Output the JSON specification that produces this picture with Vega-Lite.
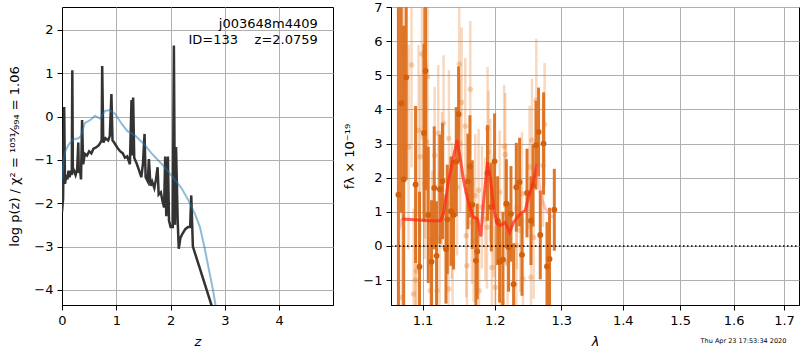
{
  "$schema": "https://vega.github.io/schema/vega-lite/v6.json",
  "background": "white",
  "padding": {"left": 8, "top": 0, "right": 1, "bottom": 0},
  "config": {
    "font": "DejaVu Sans",
    "view": {"stroke": "black", "strokeWidth": 1},
    "axis": {
      "grid": true, "gridColor": "#b0b0b0", "gridWidth": 1,
      "domainColor": "black", "domainWidth": 1,
      "tickColor": "black", "tickSize": 5, "labelPadding": 4,
      "labelFont": "DejaVu Sans", "labelFontSize": 13, "labelColor": "black",
      "titleFont": "DejaVu Sans", "titleFontSize": 13, "titleColor": "black", "titleFontWeight": "normal",
      "labelFlush": false, "labelOverlap": false
    }
  },
  "datasets": {
    "pz_model": [
      {"z": 0.0, "v": -1.45}, {"z": 0.03, "v": -1.0}, {"z": 0.06, "v": -0.8}, {"z": 0.12, "v": -0.65},
      {"z": 0.2, "v": -0.53}, {"z": 0.3, "v": -0.5}, {"z": 0.35, "v": -0.45}, {"z": 0.42, "v": -0.15},
      {"z": 0.52, "v": -0.08}, {"z": 0.61, "v": 0.02}, {"z": 0.7, "v": -0.05}, {"z": 0.79, "v": 0.13},
      {"z": 0.88, "v": 0.15}, {"z": 0.98, "v": 0.06}, {"z": 1.1, "v": -0.17}, {"z": 1.2, "v": -0.33},
      {"z": 1.34, "v": -0.43}, {"z": 1.5, "v": -0.62}, {"z": 1.65, "v": -0.85}, {"z": 1.84, "v": -1.1},
      {"z": 2.02, "v": -1.37}, {"z": 2.2, "v": -1.65}, {"z": 2.33, "v": -1.94}, {"z": 2.45, "v": -2.25},
      {"z": 2.54, "v": -2.55}, {"z": 2.62, "v": -3.0}, {"z": 2.7, "v": -3.5}, {"z": 2.78, "v": -4.0},
      {"z": 2.84, "v": -4.45}
    ],
    "pz_chi": [
      {"z": 0.0, "v": -2.2}, {"z": 0.02, "v": -1.9}, {"z": 0.04, "v": 0.22}, {"z": 0.055, "v": -1.55},
      {"z": 0.08, "v": -1.35}, {"z": 0.1, "v": -1.45}, {"z": 0.12, "v": -1.25}, {"z": 0.14, "v": -1.4},
      {"z": 0.16, "v": -1.25}, {"z": 0.18, "v": -1.35}, {"z": 0.19, "v": 1.07}, {"z": 0.2, "v": -1.3},
      {"z": 0.22, "v": -1.25}, {"z": 0.25, "v": -1.35}, {"z": 0.28, "v": -1.2}, {"z": 0.3, "v": -0.6},
      {"z": 0.31, "v": -1.3}, {"z": 0.33, "v": -1.2}, {"z": 0.35, "v": -1.45}, {"z": 0.37, "v": -0.08},
      {"z": 0.39, "v": -1.1}, {"z": 0.42, "v": -0.86}, {"z": 0.46, "v": -0.9}, {"z": 0.5, "v": -0.8},
      {"z": 0.54, "v": -0.85}, {"z": 0.58, "v": -0.74}, {"z": 0.62, "v": -0.72}, {"z": 0.67, "v": -0.67},
      {"z": 0.7, "v": -0.62}, {"z": 0.73, "v": -0.55}, {"z": 0.74, "v": 1.17}, {"z": 0.76, "v": -0.6},
      {"z": 0.8, "v": -0.5}, {"z": 0.85, "v": -0.55}, {"z": 0.88, "v": -0.45}, {"z": 0.91, "v": 0.52},
      {"z": 0.93, "v": -0.55}, {"z": 0.96, "v": -0.6}, {"z": 1.02, "v": -0.72}, {"z": 1.07, "v": -0.8},
      {"z": 1.12, "v": -0.85}, {"z": 1.16, "v": -0.95}, {"z": 1.2, "v": -0.92}, {"z": 1.25, "v": -1.1},
      {"z": 1.28, "v": 0.38}, {"z": 1.29, "v": -0.9}, {"z": 1.31, "v": 0.44}, {"z": 1.33, "v": -0.95},
      {"z": 1.38, "v": -1.1}, {"z": 1.42, "v": -1.25}, {"z": 1.46, "v": -1.4}, {"z": 1.49, "v": -1.1},
      {"z": 1.52, "v": -0.4}, {"z": 1.54, "v": -1.4}, {"z": 1.58, "v": -1.5}, {"z": 1.6, "v": -0.98},
      {"z": 1.63, "v": -1.6}, {"z": 1.66, "v": -1.5}, {"z": 1.7, "v": -1.65}, {"z": 1.73, "v": -1.45},
      {"z": 1.76, "v": -1.17}, {"z": 1.78, "v": -1.8}, {"z": 1.82, "v": -1.75}, {"z": 1.85, "v": -1.95},
      {"z": 1.88, "v": -2.1}, {"z": 1.9, "v": -0.92}, {"z": 1.92, "v": -2.3}, {"z": 1.95, "v": -0.92},
      {"z": 1.97, "v": -2.4}, {"z": 2.0, "v": -2.55}, {"z": 2.04, "v": -2.55}, {"z": 2.06, "v": 1.64},
      {"z": 2.08, "v": -2.5}, {"z": 2.1, "v": -0.7}, {"z": 2.13, "v": -2.4}, {"z": 2.15, "v": -3.05},
      {"z": 2.18, "v": -2.8}, {"z": 2.22, "v": -2.7}, {"z": 2.27, "v": -2.6}, {"z": 2.32, "v": -2.55},
      {"z": 2.36, "v": -2.55}, {"z": 2.38, "v": -1.82}, {"z": 2.41, "v": -3.0}, {"z": 2.79, "v": -4.5}
    ],
    "pz_label": [
      {"z": 4.71, "v": 2.13, "t": "j003648m4409"},
      {"z": 4.71, "v": 1.77, "t": "ID=133\u00a0\u00a0\u00a0\u00a0z=2.0759"}
    ],
    "spec_light": [
      {"l": 1.0751, "f": 5.77, "lo": 2.77, "hi": 8.77}, {"l": 1.0816, "f": 2.9, "lo": -0.1, "hi": 5.9},
      {"l": 1.073, "f": -1.51, "lo": -4.51, "hi": 1.49}, {"l": 1.0882, "f": -1.41, "lo": -3.91, "hi": 1.09},
      {"l": 1.0917, "f": -0.73, "lo": -3.23, "hi": 1.77}, {"l": 1.0947, "f": 3.39, "lo": 0.89, "hi": 5.89},
      {"l": 1.0992, "f": 5.62, "lo": 3.12, "hi": 8.12}, {"l": 1.0969, "f": 2.61, "lo": 0.21, "hi": 5.01},
      {"l": 1.1036, "f": 2.61, "lo": 0.21, "hi": 5.01}, {"l": 1.1066, "f": 4.96, "lo": 2.66, "hi": 7.26},
      {"l": 1.1058, "f": 3.05, "lo": 0.75, "hi": 5.35}, {"l": 1.103, "f": 1.82, "lo": -0.38, "hi": 4.02},
      {"l": 1.1103, "f": -1.31, "lo": -3.51, "hi": 0.89}, {"l": 1.1125, "f": 0.2, "lo": -1.8, "hi": 2.2},
      {"l": 1.1161, "f": 2.66, "lo": 0.66, "hi": 4.66}, {"l": 1.1193, "f": -1.31, "lo": -3.31, "hi": 0.69},
      {"l": 1.1228, "f": 0.2, "lo": -1.8, "hi": 2.2}, {"l": 1.126, "f": 1.92, "lo": -0.08, "hi": 3.92},
      {"l": 1.1282, "f": 3.59, "lo": 1.59, "hi": 5.59}, {"l": 1.135, "f": -1.26, "lo": -3.26, "hi": 0.74},
      {"l": 1.1355, "f": 3.15, "lo": 1.15, "hi": 5.15}, {"l": 1.1396, "f": 1.04, "lo": -0.96, "hi": 3.04},
      {"l": 1.1466, "f": 1.72, "lo": -0.28, "hi": 3.72}, {"l": 1.1497, "f": 5.33, "lo": 3.33, "hi": 7.33},
      {"l": 1.1511, "f": 3.0, "lo": 1.0, "hi": 5.0}, {"l": 1.1581, "f": 3.51, "lo": 1.51, "hi": 5.51},
      {"l": 1.1595, "f": 0.3, "lo": -1.5, "hi": 2.1}, {"l": 1.1604, "f": -0.58, "lo": -2.38, "hi": 1.22},
      {"l": 1.1651, "f": 4.59, "lo": 2.59, "hi": 6.59}, {"l": 1.1674, "f": 0.69, "lo": -1.11, "hi": 2.49},
      {"l": 1.1697, "f": 0.16, "lo": -1.64, "hi": 1.96}, {"l": 1.1721, "f": 1.48, "lo": -0.32, "hi": 3.28},
      {"l": 1.1768, "f": 1.63, "lo": -0.17, "hi": 3.43}, {"l": 1.1775, "f": -1.31, "lo": -3.11, "hi": 0.49},
      {"l": 1.1816, "f": 1.14, "lo": -0.66, "hi": 2.94}, {"l": 1.1864, "f": 0.79, "lo": -1.01, "hi": 2.59},
      {"l": 1.1888, "f": 0.55, "lo": -1.25, "hi": 2.35}, {"l": 1.1896, "f": 3.44, "lo": 1.64, "hi": 5.24},
      {"l": 1.191, "f": 2.75, "lo": 0.95, "hi": 4.55}, {"l": 1.1935, "f": 1.92, "lo": 0.12, "hi": 3.72},
      {"l": 1.1983, "f": 0.89, "lo": -0.91, "hi": 2.69}, {"l": 1.1959, "f": -0.63, "lo": -2.43, "hi": 1.17},
      {"l": 1.2007, "f": -1.22, "lo": -3.02, "hi": 0.58}, {"l": 1.207, "f": 1.58, "lo": -0.22, "hi": 3.38},
      {"l": 1.2137, "f": 2.92, "lo": 1.12, "hi": 4.72}, {"l": 1.2152, "f": 2.68, "lo": 0.88, "hi": 4.48},
      {"l": 1.2163, "f": 1.21, "lo": -0.59, "hi": 3.01}, {"l": 1.2186, "f": -0.48, "lo": -2.28, "hi": 1.32},
      {"l": 1.2105, "f": -1.66, "lo": -3.46, "hi": 0.14}, {"l": 1.2315, "f": 0.01, "lo": -1.79, "hi": 1.81},
      {"l": 1.2324, "f": 1.12, "lo": -0.68, "hi": 2.92}, {"l": 1.2374, "f": 0.45, "lo": -1.35, "hi": 2.25},
      {"l": 1.24, "f": 1.53, "lo": -0.27, "hi": 3.33}, {"l": 1.2415, "f": -0.97, "lo": -2.77, "hi": 0.83},
      {"l": 1.2514, "f": 2.31, "lo": 0.51, "hi": 4.11}, {"l": 1.2535, "f": -0.92, "lo": -2.72, "hi": 0.88},
      {"l": 1.255, "f": 3.1, "lo": 1.3, "hi": 4.9}, {"l": 1.2575, "f": 0.25, "lo": -1.55, "hi": 2.05},
      {"l": 1.2615, "f": 4.27, "lo": 2.47, "hi": 6.07}, {"l": 1.2742, "f": 3.56, "lo": 1.76, "hi": 5.36},
      {"l": 1.2718, "f": 2.36, "lo": 0.56, "hi": 4.16}, {"l": 1.0906, "f": -1.0, "lo": -3.5, "hi": 1.5},
      {"l": 1.0855, "f": 5.3, "lo": 2.3, "hi": 8.3}, {"l": 1.121, "f": 3.3, "lo": 1.3, "hi": 5.3},
      {"l": 1.1405, "f": -0.5, "lo": -2.5, "hi": 1.5}, {"l": 1.153, "f": 4.2, "lo": 2.0, "hi": 6.4}
    ],
    "spec_dark": [
      {"l": 1.0685, "f": 1.5, "lo": -4.5, "hi": 7.5}, {"l": 1.0721, "f": 4.18, "lo": 0.98, "hi": 7.38},
      {"l": 1.0753, "f": 1.95, "lo": -2.55, "hi": 6.45}, {"l": 1.0786, "f": 4.94, "lo": 1.94, "hi": 7.94},
      {"l": 1.0908, "f": 1.8, "lo": -0.5, "hi": 4.1}, {"l": 1.096, "f": -0.61, "lo": -2.81, "hi": 1.59},
      {"l": 1.1019, "f": 3.31, "lo": 0.71, "hi": 5.91}, {"l": 1.104, "f": 5.13, "lo": 1.63, "hi": 8.63},
      {"l": 1.1076, "f": 0.91, "lo": -1.09, "hi": 2.91}, {"l": 1.112, "f": -0.46, "lo": -2.26, "hi": 1.34},
      {"l": 1.1156, "f": 1.7, "lo": -0.1, "hi": 3.5}, {"l": 1.1187, "f": -0.29, "lo": -1.89, "hi": 1.31},
      {"l": 1.1233, "f": 1.66, "lo": 0.06, "hi": 3.26}, {"l": 1.1268, "f": 1.9, "lo": 0.2, "hi": 3.6},
      {"l": 1.1315, "f": -0.09, "lo": -1.69, "hi": 1.51}, {"l": 1.1333, "f": 0.78, "lo": -0.82, "hi": 2.38},
      {"l": 1.1383, "f": 1.02, "lo": -0.58, "hi": 2.62}, {"l": 1.1419, "f": 0.91, "lo": -0.69, "hi": 2.51},
      {"l": 1.1456, "f": 2.47, "lo": 0.87, "hi": 4.07}, {"l": 1.1488, "f": 3.86, "lo": 2.46, "hi": 5.26},
      {"l": 1.1618, "f": 1.89, "lo": 0.49, "hi": 3.29}, {"l": 1.1646, "f": 2.33, "lo": 0.83, "hi": 3.83},
      {"l": 1.1679, "f": 1.21, "lo": -0.09, "hi": 2.51}, {"l": 1.173, "f": -0.43, "lo": -1.73, "hi": 0.87},
      {"l": 1.1749, "f": -0.16, "lo": -1.56, "hi": 1.24}, {"l": 1.1895, "f": 2.14, "lo": 0.74, "hi": 3.54},
      {"l": 1.195, "f": 1.14, "lo": -0.16, "hi": 2.44}, {"l": 1.1997, "f": 2.48, "lo": 1.08, "hi": 3.88},
      {"l": 1.2041, "f": 0.74, "lo": -0.56, "hi": 2.04}, {"l": 1.207, "f": -0.46, "lo": -1.66, "hi": 0.74},
      {"l": 1.2119, "f": -0.4, "lo": -1.8, "hi": 1.0}, {"l": 1.2168, "f": 1.24, "lo": -0.06, "hi": 2.54},
      {"l": 1.2201, "f": -0.04, "lo": -1.34, "hi": 1.26}, {"l": 1.2236, "f": 0.94, "lo": -0.46, "hi": 2.34},
      {"l": 1.2275, "f": -1.12, "lo": -2.32, "hi": 0.08}, {"l": 1.2315, "f": 1.72, "lo": 0.42, "hi": 3.02},
      {"l": 1.2364, "f": 1.87, "lo": 0.57, "hi": 3.17}, {"l": 1.24, "f": -0.26, "lo": -1.46, "hi": 0.94},
      {"l": 1.2475, "f": 1.55, "lo": 0.25, "hi": 2.85}, {"l": 1.2535, "f": 0.74, "lo": -0.56, "hi": 2.04},
      {"l": 1.2565, "f": 1.77, "lo": 0.57, "hi": 2.97}, {"l": 1.261, "f": 2.95, "lo": 1.65, "hi": 4.25},
      {"l": 1.265, "f": 3.34, "lo": 2.04, "hi": 4.64}, {"l": 1.2676, "f": 0.32, "lo": -0.98, "hi": 1.62},
      {"l": 1.2726, "f": 3.0, "lo": 1.5, "hi": 4.5}, {"l": 1.2779, "f": -0.6, "lo": -1.9, "hi": 0.7},
      {"l": 1.2818, "f": -0.38, "lo": -1.88, "hi": 1.12}, {"l": 1.2892, "f": 1.06, "lo": -0.14, "hi": 2.26}
    ],
    "model_main": [
      {"l": 1.073, "f": 0.79}, {"l": 1.09, "f": 0.77}, {"l": 1.11, "f": 0.74}, {"l": 1.124, "f": 0.74},
      {"l": 1.128, "f": 0.94}, {"l": 1.135, "f": 1.92}, {"l": 1.1466, "f": 3.1}, {"l": 1.151, "f": 2.6},
      {"l": 1.1557, "f": 1.92}, {"l": 1.1627, "f": 1.24}, {"l": 1.1697, "f": 0.84}, {"l": 1.1754, "f": 0.79},
      {"l": 1.18, "f": 0.28}, {"l": 1.184, "f": 1.33}, {"l": 1.1896, "f": 2.46}, {"l": 1.1935, "f": 2.02},
      {"l": 1.1983, "f": 1.14}, {"l": 1.2031, "f": 0.65}, {"l": 1.208, "f": 0.6}, {"l": 1.2152, "f": 0.69},
      {"l": 1.2216, "f": 0.4}, {"l": 1.2274, "f": 0.69}, {"l": 1.2374, "f": 0.94}, {"l": 1.2448, "f": 1.04},
      {"l": 1.2498, "f": 1.43}, {"l": 1.2565, "f": 1.82}, {"l": 1.2625, "f": 2.41}
    ],
    "model_fade": [
      {"l": 1.0687, "f": 0.45}, {"l": 1.073, "f": 0.79}
    ],
    "model_fade2": [
      {"l": 1.2625, "f": 2.41}, {"l": 1.2676, "f": 1.53}, {"l": 1.2752, "f": 1.09}, {"l": 1.283, "f": 0.89},
      {"l": 1.288, "f": 0.84}
    ],
    "zero": [
      {"f": 0}
    ],
    "stamp": [
      {"l": 1.619, "f": -2.785, "t": "Thu Apr 23 17:53:34 2020"}
    ]
  },
  "hconcat": [
    {
      "width": 271,
      "height": 298,
      "layer": [
        {
          "data": {"name": "pz_chi"},
          "mark": {"type": "line", "color": "#333333", "strokeWidth": 2.5, "clip": true},
          "encoding": {
            "x": {"field": "z", "type": "quantitative", "scale": {"domain": [0, 4.99], "nice": false, "zero": false},
                  "axis": {"values": [0, 1, 2, 3, 4], "title": "z", "titleFontStyle": "italic", "titlePadding": 8, "format": "d"}},
            "y": {"field": "v", "type": "quantitative", "scale": {"domain": [-4.35, 2.53], "nice": false, "zero": false},
                  "axis": {"values": [-4, -3, -2, -1, 0, 1, 2], "title": "log p(z) / χ² = ¹⁰⁵¹⁄₉₉₄ = 1.06", "titlePadding": 12, "format": "d"}},
            "order": {"field": "z", "type": "quantitative"}
          }
        },
        {
          "data": {"name": "pz_model"},
          "mark": {"type": "line", "color": "#1f77b4", "opacity": 0.5, "strokeWidth": 2, "clip": true},
          "encoding": {
            "x": {"field": "z", "type": "quantitative"},
            "y": {"field": "v", "type": "quantitative"},
            "order": {"field": "z", "type": "quantitative"}
          }
        },
        {
          "data": {"name": "pz_label"},
          "mark": {"type": "text", "align": "right", "baseline": "middle", "fontSize": 13, "color": "black"},
          "encoding": {
            "x": {"field": "z", "type": "quantitative"},
            "y": {"field": "v", "type": "quantitative"},
            "text": {"field": "t"}
          }
        }
      ]
    },
    {
      "width": 408,
      "height": 298,
      "encoding": {
        "x": {"field": "l", "type": "quantitative",
              "scale": {"type": "log", "domain": [1.059, 1.731], "nice": false, "zero": false},
              "axis": {"values": [1.1, 1.2, 1.3, 1.4, 1.5, 1.6, 1.7], "format": ".1f", "title": "λ", "titleFontStyle": "italic", "titlePadding": 8}},
        "y": {"field": "f", "type": "quantitative",
              "scale": {"domain": [-1.73, 7.0], "nice": false, "zero": false},
              "axis": {"values": [-1, 0, 1, 2, 3, 4, 5, 6, 7], "tickCount": 10, "format": "d", "title": "fλ × 10⁻¹⁹", "titlePadding": 6}}
      },
      "layer": [
        {
          "data": {"name": "spec_light"},
          "mark": {"type": "rule", "strokeWidth": 2.5, "color": "#e8822e", "opacity": 0.3, "clip": true},
          "encoding": {
            "y": {"field": "lo", "type": "quantitative",
                  "scale": {"domain": [-1.73, 7.0], "nice": false, "zero": false},
                  "axis": {"values": [-1, 0, 1, 2, 3, 4, 5, 6, 7], "tickCount": 10, "format": "d", "title": "fλ × 10⁻¹⁹", "titlePadding": 6}},
            "y2": {"field": "hi"}
          }
        },
        {
          "data": {"name": "spec_light"},
          "mark": {"type": "circle", "size": 30, "color": "#e8822e", "opacity": 0.35, "clip": true}
        },
        {
          "data": {"name": "spec_dark"},
          "mark": {"type": "rule", "strokeWidth": 3, "color": "#dc701e", "opacity": 0.95, "clip": true},
          "encoding": {
            "y": {"field": "lo", "type": "quantitative",
                  "scale": {"domain": [-1.73, 7.0], "nice": false, "zero": false},
                  "axis": {"values": [-1, 0, 1, 2, 3, 4, 5, 6, 7], "tickCount": 10, "format": "d", "title": "fλ × 10⁻¹⁹", "titlePadding": 6}},
            "y2": {"field": "hi"}
          }
        },
        {
          "data": {"name": "spec_dark"},
          "mark": {"type": "circle", "size": 34, "color": "#d2600c", "opacity": 1, "clip": true}
        },
        {
          "data": {"name": "model_main"},
          "mark": {"type": "line", "color": "#ff2a1a", "opacity": 0.75, "strokeWidth": 3, "clip": true},
          "encoding": {"order": {"field": "l", "type": "quantitative"}}
        },
        {
          "data": {"name": "model_fade"},
          "mark": {"type": "line", "color": "#ff6b6b", "opacity": 0.4, "strokeWidth": 3, "clip": true},
          "encoding": {"order": {"field": "l", "type": "quantitative"}}
        },
        {
          "data": {"name": "model_fade2"},
          "mark": {"type": "line", "color": "#ff6b6b", "opacity": 0.4, "strokeWidth": 3, "clip": true},
          "encoding": {"order": {"field": "l", "type": "quantitative"}}
        },
        {
          "data": {"name": "zero"},
          "mark": {"type": "rule", "color": "black", "strokeWidth": 1.5, "strokeDash": [1.5, 2.5]},
          "encoding": {"x": {"value": 0}, "x2": {"value": 408}}
        },
        {
          "data": {"name": "stamp"},
          "mark": {"type": "text", "align": "center", "baseline": "middle", "fontSize": 6.5, "color": "black"},
          "encoding": {"text": {"field": "t"}}
        }
      ]
    }
  ],
  "spacing": 58,
  "bounds": "flush"
}
